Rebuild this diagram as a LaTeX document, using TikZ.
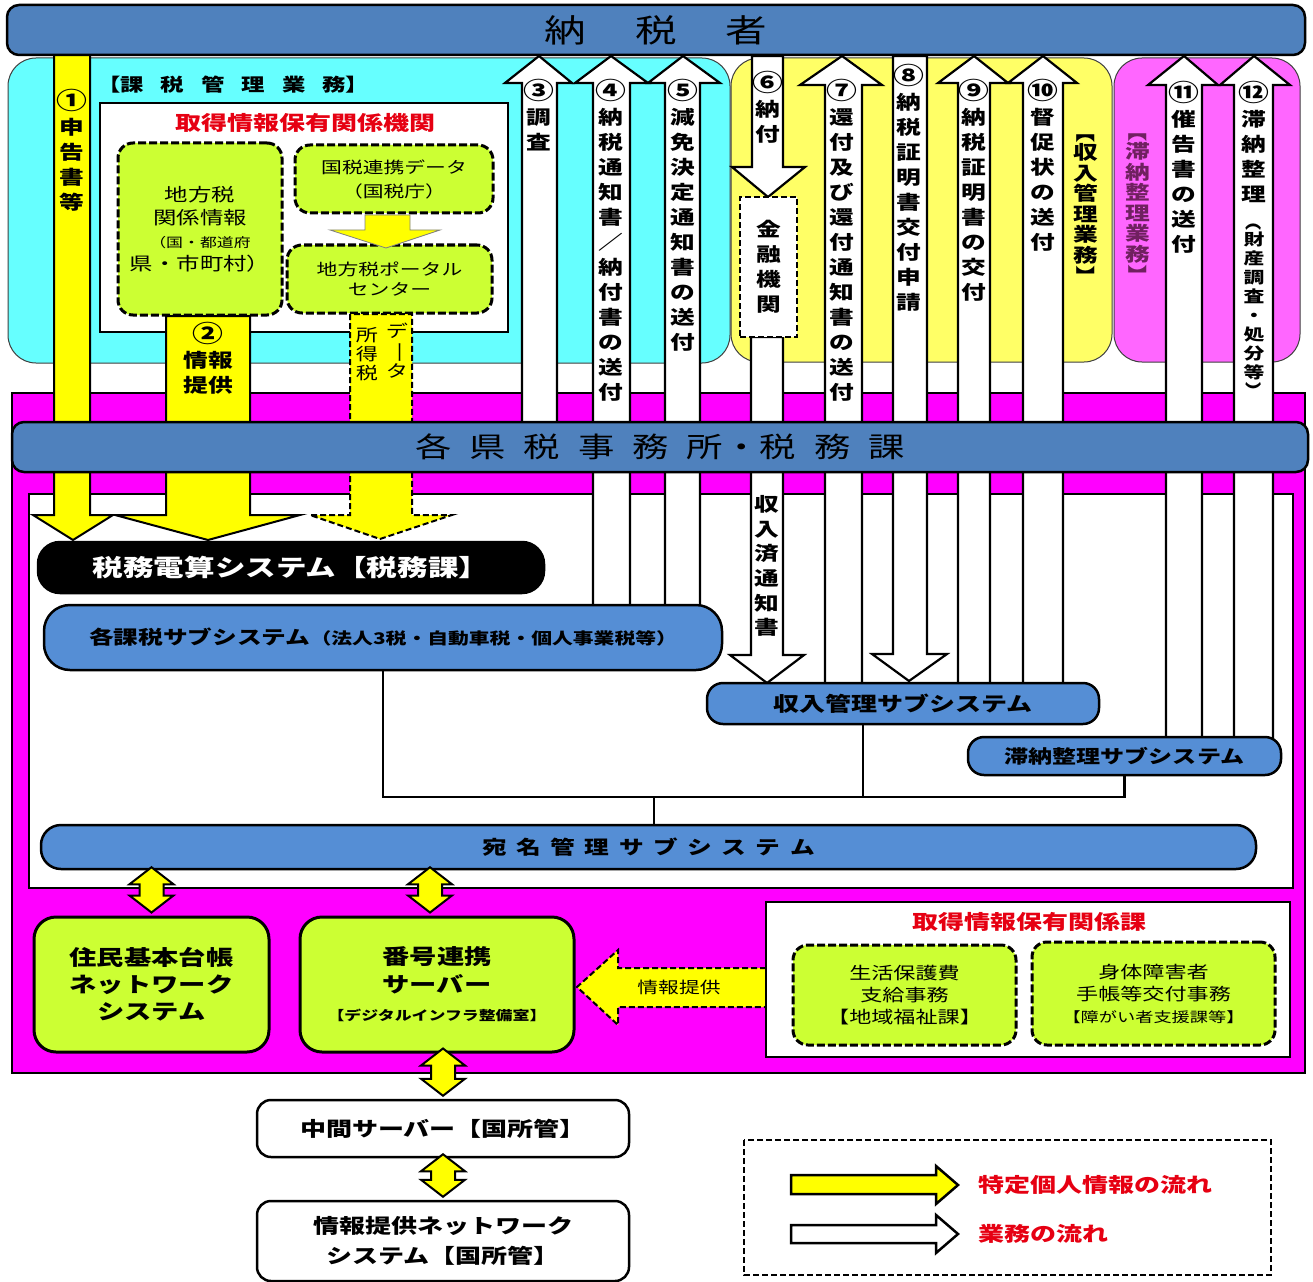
\documentclass[tikz,border=0pt]{standalone}
\usepackage{fontspec}
\setmainfont[FakeStretch=1.3]{Noto Sans CJK JP}
\usetikzlibrary{calc}
\definecolor{barblue}{HTML}{4F81BD}
\definecolor{subblue}{HTML}{558ED5}
\definecolor{cyanbg}{HTML}{66FFFF}
\definecolor{yelbg}{HTML}{FFFF66}
\definecolor{pinkbg}{HTML}{FF66FF}
\definecolor{magbg}{HTML}{FF00FF}
\definecolor{grn}{HTML}{CCFF33}
\definecolor{yel}{HTML}{FFFF00}
\definecolor{redtxt}{HTML}{E60012}
\definecolor{purptxt}{HTML}{702060}
\newcommand{\vr}[1]{\rotatebox[origin=c]{-90}{#1}}
\newcommand{\cn}[1]{\scalebox{1.25}{#1}}
\newcommand{\fs}[2]{\fontsize{#1}{#2}\selectfont}
% block arrow: [style] l r hl hr yhead ctip ytip ybase
\newcommand{\barr}[9][warrow]{\draw[#1] (#2,#9) -- (#2,#6) -- (#4,#6) -- (#7,#8) -- (#5,#6) -- (#3,#6) -- (#3,#9) -- cycle;}
\newcommand{\dblarr}[2]{\draw[yarrow] let \p1=(#1), \p2=(#2) in (\x1-12pt,\y1-17pt) -- (\x1-22pt,\y1-17pt) -- (\x1,\y1) -- (\x1+22pt,\y1-17pt) -- (\x1+12pt,\y1-17pt) -- (\x1+12pt,\y2+17pt) -- (\x1+22pt,\y2+17pt) -- (\x1,\y2) -- (\x1-22pt,\y2+17pt) -- (\x1-12pt,\y2+17pt) -- cycle;}
\tikzset{
  region/.style={draw=black!75, line width=1pt, rounded corners=28pt},
  bar/.style={draw=black, line width=2.5pt, fill=barblue, rounded corners=12pt, inner sep=0pt},
  subsys/.style={draw=black, line width=2.5pt, fill=subblue, rounded corners=16pt, inner sep=0pt, font=\bfseries\fs{19}{22}},
  grnbox/.style={draw=black, line width=3pt, fill=grn, rounded corners=22pt, align=center, inner sep=0pt},
  dgrn/.style={draw=black, line width=3pt, dash pattern=on 8pt off 3pt, fill=grn, rounded corners=15pt, align=center, inner sep=0pt},
  wbox/.style={draw=black, line width=2.5pt, fill=white, rounded corners=14pt, align=center, inner sep=0pt, font=\bfseries\fs{20}{30}},
  warrow/.style={draw=black, line width=2.2pt, fill=white},
  yarrow/.style={draw=black, line width=2pt, fill=yel},
  yarrowd/.style={yarrow, dash pattern=on 6pt off 3pt},
  ysmall/.style={draw=black!50, line width=0.8pt, fill=yel},
  vl/.style={font=\bfseries\fs{19}{25}, align=center, inner sep=0pt, anchor=north},
  conn/.style={draw=black, line width=2.5pt},
}
\begin{document}
\begin{tikzpicture}[x=1pt,y=-1pt]
\useasboundingbox (0,0) rectangle (1313,1281);
\fill[white] (0,0) rectangle (1313,1281);

% background regions
\draw[region, fill=cyanbg] (8,58) rectangle (730,363);
\draw[region, fill=yelbg] (731,58) rectangle (1112,362);
\draw[region, fill=pinkbg] (1114,58) rectangle (1300,362);
\draw[line width=2.5pt, fill=magbg] (12,393) rectangle (1305,1073);
\draw[line width=2.5pt, fill=white] (29,494) rectangle (1293,888);

% 課税管理業務
\node[font=\bfseries\fs{18}{20}, anchor=west, inner sep=0pt] (kazeigyomu) at (97,85)
  {【課\hspace{17pt}税\hspace{17pt}管\hspace{17pt}理\hspace{17pt}業\hspace{17pt}務】};
\draw[line width=2.5pt, fill=white] (100,103) rectangle (508,332);
\node[font=\bfseries\fs{20}{24}, text=redtxt] (kikan) at (305,123) {取得情報保有関係機関};
\node[dgrn, minimum width=164pt, minimum height=172pt, font=\fs{18}{23}] (chiho) at (200,229)
  {地方税\\関係情報\\\fs{13}{18}（国・都道府\\県・市町村）};
\node[dgrn, minimum width=198pt, minimum height=68pt, font=\fs{16}{24}] (kokuzei) at (394,179)
  {国税連携データ\\（国税庁）};
\node[dgrn, minimum width=205pt, minimum height=68pt, font=\fs{16}{20}] (portal) at (389.5,279)
  {地方税ポータル\\センター};
\barr[ysmall]{365}{410}{330}{440}{230}{386}{248}{215}

% yellow arrows
\barr[yarrow]{54}{90}{33}{113}{515}{73}{540}{55}
\barr[yarrow]{166}{250}{115}{300}{515}{208}{540}{316}
\barr[yarrowd]{350}{412}{310}{452}{515}{380}{539}{314}

% white arrows
\barr{522}{557}{505}{572}{83}{539}{56}{440}
\barr{593}{630}{575}{648}{83}{611}{56}{610}
\barr{665}{700}{648}{720}{83}{683}{56}{610}
\barr{752}{783}{732}{805}{167}{768}{197}{56}
\barr{751}{783}{730}{804}{655}{767}{683}{337}
\barr{825}{862}{800}{882}{85}{842}{56}{688}
\barr{893}{927}{872}{947}{654}{909}{681}{56}
\barr{958}{990}{938}{1008}{83}{974}{56}{688}
\barr{1023}{1063}{1008}{1077}{83}{1043}{56}{688}
\barr{1166}{1202}{1148}{1218}{85}{1184}{56}{742}
\barr{1234}{1273}{1220}{1290}{85}{1254}{56}{742}

% 金融機関
\node[draw=black, line width=2.5pt, dash pattern=on 6pt off 3pt, fill=white, minimum width=57pt, minimum height=140pt, inner sep=0pt, align=center, font=\bfseries\fs{19}{25}] (kinyu) at (768.5,267) {金\\融\\機\\関};

% bars
\node[bar, minimum width=1298pt, minimum height=50pt, font=\fs{32}{36}] (nozei) at (656,30)
  {納\hspace{49pt}税\hspace{49pt}者};
\node[bar, minimum width=1296pt, minimum height=50pt, font=\fs{28}{32}] (kenzei) at (660,447)
  {各\hspace{18pt}県\hspace{18pt}税\hspace{18pt}事\hspace{18pt}務\hspace{18pt}所・税\hspace{18pt}務\hspace{18pt}課\hspace{16pt}};

% systems
\node[draw=black, line width=2.5pt, fill=black, rounded corners=22pt, minimum width=506pt, minimum height=51pt, inner sep=0pt, text=white, font=\bfseries\fs{23.5}{28}] (densan) at (291,567.5) {税務電算システム【税務課】};
\node[subsys, rounded corners=26pt, minimum width=678pt, minimum height=65pt] (kakusub) at (383,637.5)
  {各課税サブシステム{\fs{16}{20}（法人3税・自動車税・個人事業税等）}};
\node[subsys, font=\bfseries\fs{20}{22}, minimum width=392pt, minimum height=41pt] (shunyu) at (903,703.5) {収入管理サブシステム};
\node[subsys, font=\bfseries\fs{18.5}{22}, minimum width=313pt, minimum height=38pt] (tainou) at (1124.5,756) {滞納整理サブシステム};
\node[subsys, rounded corners=20pt, minimum width=1215pt, minimum height=44pt] (atena) at (648.5,847)
  {宛\hspace{9.5pt}名\hspace{9.5pt}管\hspace{9.5pt}理\hspace{9.5pt}サ\hspace{9.5pt}ブ\hspace{9.5pt}シ\hspace{9.5pt}ス\hspace{9.5pt}テ\hspace{9.5pt}ム};

% connectors
\coordinate (hub) at (654,797);
\draw[conn] (kakusub.south) |- (hub);
\draw[conn] (hub) -| (tainou.south);
\draw[conn] ([xshift=-40pt]shunyu.south) -- ([xshift=-40pt]shunyu.south |- hub);
\draw[conn] (hub) -- (hub |- atena.north);

% arrow labels
\node[vl] (t1) at (72,89) {\cn{①}\\申\\告\\書\\等};
\node[font=\bfseries\fs{19}{25}, align=center, inner sep=0pt] (t2) at (208,358) {\cn{②}\\情報\\提供};
\node[font=\fs{17}{19}, align=center, inner sep=0pt] (shotoku) at (367,354) {所\\得\\税};
\node[font=\fs{17}{18}, align=center, inner sep=0pt] (data) at (397,351) {デ\\\vr{ー}\\タ};
\node[vl] (t3) at (539,79) {\cn{③}\\調\\査};
\node[vl] (t4) at (611,79) {\cn{④}\\納\\税\\通\\知\\書\\／\\納\\付\\書\\の\\送\\付};
\node[vl] (t5) at (683,79) {\cn{⑤}\\減\\免\\決\\定\\通\\知\\書\\の\\送\\付};
\node[vl] (t6) at (768,71) {\cn{⑥}\\納\\付};
\node[vl] (t7) at (842,79) {\cn{⑦}\\還\\付\\及\\び\\還\\付\\通\\知\\書\\の\\送\\付};
\node[vl] (t8) at (909,64) {\cn{⑧}\\納\\税\\証\\明\\書\\交\\付\\申\\請};
\node[vl] (t9) at (974,79) {\cn{⑨}\\納\\税\\証\\明\\書\\の\\交\\付};
\node[vl] (t10) at (1043,79) {\cn{⑩}\\督\\促\\状\\の\\送\\付};
\node[vl] (t11) at (1184,81) {\cn{⑪}\\催\\告\\書\\の\\送\\付};
\node[vl] (t12) at (1254,81) {\cn{⑫}\\滞\\納\\整\\理};
\node[vl, font=\bfseries\fs{16}{19}] (t12b) at (1254,210) {\vr{（}\\財\\産\\調\\査\\・\\処\\分\\等\\\vr{）}};
\node[font=\bfseries\fs{19}{24.6}, align=center, inner sep=0pt] (shunyuzumi) at (767,566) {収\\入\\済\\通\\知\\書};
\node[font=\bfseries\fs{19}{20.5}, align=center, inner sep=0pt] (shunyugyomu) at (1086,204) {\vr{【}\\収\\入\\管\\理\\業\\務\\\vr{】}};
\node[font=\bfseries\fs{19}{20.5}, align=center, inner sep=0pt, text=purptxt] (tainougyomu) at (1138,203) {\vr{【}\\滞\\納\\整\\理\\業\\務\\\vr{】}};

% lower part
\draw[yarrowd] (766,968) -- (618,968) -- (618,950) -- (577,987) -- (618,1025) -- (618,1007) -- (766,1007);
\node[font=\fs{16}{18}] (jtlabel) at (679,987) {情報提供};
\draw[line width=2.5pt, fill=white] (766,902) rectangle (1290,1057);
\node[font=\bfseries\fs{20}{24}, text=redtxt] (kakari) at (1029,922) {取得情報保有関係課};
\node[dgrn, minimum width=223pt, minimum height=100pt, font=\fs{17}{22}] (seikatsu) at (904.5,995)
  {生活保護費\\支給事務\\【地域福祉課】};
\node[dgrn, minimum width=243pt, minimum height=103pt, font=\fs{17}{22}] (shintai) at (1153.5,993.5)
  {身体障害者\\手帳等交付事務\\\fs{14}{22}【障がい者支援課等】};

\node[grnbox, minimum width=235pt, minimum height=135pt, font=\bfseries\fs{21}{27}] (jumin) at (151.5,984.5)
  {住民基本台帳\\ネットワーク\\システム};
\node[grnbox, minimum width=274pt, minimum height=135pt, font=\bfseries\fs{21}{28}] (bango) at (437,984.5)
  {番号連携\\サーバー\\\fs{13}{28}【デジタルインフラ整備室】};
\node[wbox, minimum width=372pt, minimum height=57pt] (chukan) at (443,1128.5) {中間サーバー【国所管】};
\node[wbox, minimum width=372pt, minimum height=80pt] (nwsys) at (443,1241) {情報提供ネットワーク\\システム【国所管】};

\dblarr{[yshift=3pt]jumin.north |- atena.south}{[yshift=3pt]jumin.north}
\dblarr{[yshift=3pt]430,0 |- atena.south}{[yshift=3pt]430,0 |- bango.north}
\dblarr{[yshift=5pt]bango.south -| chukan.north}{[yshift=3pt]chukan.north}
\dblarr{[yshift=4pt]chukan.south}{[yshift=3pt]nwsys.north}

% legend
\draw[line width=2pt, dash pattern=on 6pt off 3pt] (744,1140) rectangle (1271,1275);
\draw[yarrow, line width=2.5pt] (791,1175) -- (936,1175) -- (936,1166) -- (958,1185) -- (936,1204) -- (936,1194) -- (791,1194) -- cycle;
\draw[warrow, line width=2.5pt] (791,1225) -- (936,1225) -- (936,1215) -- (958,1234) -- (936,1253) -- (936,1243) -- (791,1243) -- cycle;
\node[anchor=west, inner sep=0pt, font=\bfseries\fs{20}{24}, text=redtxt] (lg1) at (978,1185) {特定個人情報の流れ};
\node[anchor=west, inner sep=0pt, font=\bfseries\fs{20}{24}, text=redtxt] (lg2) at (978,1234) {業務の流れ};
\end{tikzpicture}
\end{document}
